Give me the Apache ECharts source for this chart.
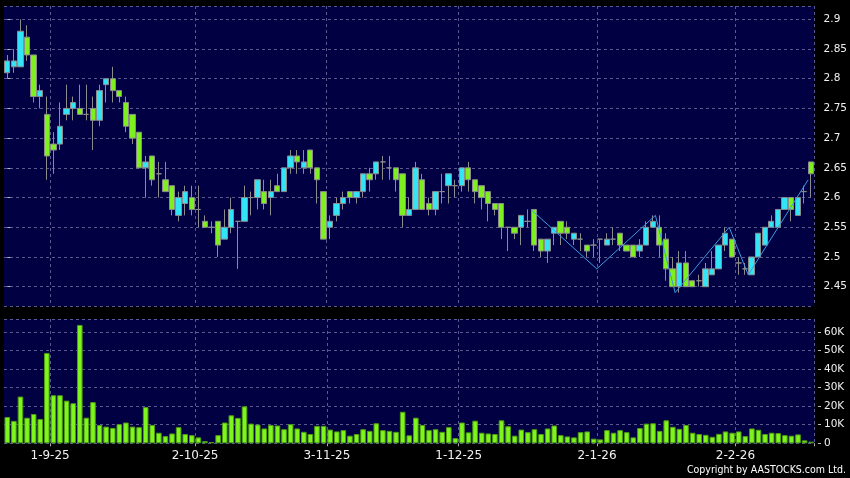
<!DOCTYPE html>
<html><head><meta charset="utf-8">
<script src="https://cdn.jsdelivr.net/npm/echarts@6/dist/echarts.min.js"></script>
<style>html,body{margin:0;padding:0;background:#000;}#c{width:850px;height:478px;}</style>
</head><body><div id="c"></div>
<script>
const dates = [
 '21-8-25','22-8-25','25-8-25','26-8-25','27-8-25','28-8-25','29-8-25',
 '1-9-25','2-9-25','3-9-25','4-9-25','5-9-25','8-9-25','9-9-25','10-9-25','11-9-25','12-9-25','15-9-25','16-9-25','17-9-25','18-9-25','19-9-25','22-9-25','23-9-25','24-9-25','25-9-25','26-9-25','29-9-25','30-9-25',
 '2-10-25','3-10-25','6-10-25','8-10-25','9-10-25','10-10-25','13-10-25','14-10-25','15-10-25','16-10-25','17-10-25','20-10-25','21-10-25','22-10-25','23-10-25','24-10-25','27-10-25','28-10-25','30-10-25','31-10-25',
 '3-11-25','4-11-25','5-11-25','6-11-25','7-11-25','10-11-25','11-11-25','12-11-25','13-11-25','14-11-25','17-11-25','18-11-25','19-11-25','20-11-25','21-11-25','24-11-25','25-11-25','26-11-25','27-11-25','28-11-25',
 '1-12-25','2-12-25','3-12-25','4-12-25','5-12-25','8-12-25','9-12-25','10-12-25','11-12-25','12-12-25','15-12-25','16-12-25','17-12-25','18-12-25','19-12-25','22-12-25','23-12-25','24-12-25','29-12-25','30-12-25','31-12-25',
 '2-1-26','5-1-26','6-1-26','7-1-26','8-1-26','9-1-26','12-1-26','13-1-26','14-1-26','15-1-26','16-1-26','19-1-26','20-1-26','21-1-26','22-1-26','23-1-26','26-1-26','27-1-26','28-1-26','29-1-26','30-1-26',
 '2-2-26','3-2-26','4-2-26','5-2-26','6-2-26','9-2-26','10-2-26','11-2-26','12-2-26','13-2-26','16-2-26','20-2-26'
];
const opens = [
 2.81,2.82,2.82,2.87,2.84,2.77,2.74,2.69,2.69,2.74,
 2.75,2.75,2.74,2.75,2.73,2.79,2.80,2.78,2.76,2.74,
 2.71,2.65,2.67,2.64,2.63,2.62,2.57,2.59,2.60,2.58,
 2.56,2.55,2.56,2.53,2.55,2.56,2.56,2.60,2.60,2.61,
 2.60,2.62,2.61,2.65,2.67,2.65,2.68,2.65,2.61,2.55,
 2.57,2.59,2.61,2.60,2.61,2.64,2.64,2.66,2.65,2.65,
 2.64,2.57,2.58,2.63,2.59,2.58,2.61,2.62,2.62,2.62,
 2.65,2.63,2.62,2.61,2.59,2.59,2.55,2.55,2.55,2.56,
 2.58,2.53,2.51,2.54,2.56,2.55,2.53,2.53,2.52,2.52,
 2.53,2.52,2.53,2.54,2.52,2.52,2.51,2.52,2.55,2.55,
 2.53,2.48,2.45,2.49,2.46,2.46,2.45,2.47,2.48,2.52,
 2.53,2.49,2.48,2.47,2.50,2.52,2.55,2.55,2.58,2.60,
 2.57,2.61,2.66
];
const closes = [
 2.83,2.83,2.88,2.84,2.77,2.78,2.67,2.68,2.72,2.75,
 2.76,2.74,2.74,2.73,2.78,2.80,2.78,2.77,2.72,2.70,
 2.65,2.66,2.63,2.64,2.61,2.58,2.60,2.61,2.58,2.58,
 2.55,2.55,2.52,2.55,2.58,2.56,2.60,2.60,2.63,2.59,
 2.61,2.61,2.65,2.67,2.66,2.66,2.65,2.63,2.53,2.56,
 2.59,2.60,2.60,2.61,2.64,2.63,2.66,2.66,2.65,2.63,
 2.57,2.58,2.65,2.58,2.58,2.61,2.61,2.64,2.62,2.65,
 2.63,2.61,2.60,2.59,2.58,2.55,2.55,2.54,2.57,2.56,
 2.52,2.51,2.53,2.55,2.54,2.54,2.54,2.53,2.51,2.52,
 2.53,2.53,2.53,2.52,2.51,2.50,2.52,2.55,2.56,2.52,
 2.48,2.45,2.49,2.45,2.45,2.46,2.48,2.48,2.52,2.54,
 2.50,2.49,2.48,2.50,2.54,2.55,2.56,2.58,2.60,2.58,
 2.60,2.61,2.64
];
const lows = [
 2.80,2.81,2.82,2.83,2.76,2.75,2.63,2.64,2.68,2.73,
 2.73,2.74,2.73,2.68,2.72,2.76,2.76,2.76,2.71,2.69,
 2.65,2.60,2.62,2.60,2.61,2.57,2.56,2.57,2.57,2.55,
 2.55,2.54,2.50,2.53,2.54,2.48,2.56,2.57,2.58,2.58,
 2.57,2.61,2.61,2.64,2.64,2.64,2.64,2.59,2.53,2.53,
 2.56,2.58,2.59,2.59,2.60,2.61,2.63,2.63,2.63,2.61,
 2.55,2.57,2.58,2.58,2.57,2.57,2.59,2.59,2.60,2.61,
 2.61,2.59,2.58,2.56,2.57,2.53,2.51,2.53,2.52,2.55,
 2.51,2.50,2.49,2.52,2.52,2.53,2.52,2.51,2.50,2.50,
 2.49,2.52,2.52,2.51,2.51,2.50,2.50,2.52,2.55,2.50,
 2.46,2.45,2.44,2.45,2.45,2.45,2.45,2.47,2.48,2.51,
 2.50,2.47,2.47,2.47,2.50,2.52,2.55,2.55,2.58,2.56,
 2.57,2.59,2.60
];
const highs = [
 2.84,2.85,2.90,2.89,2.84,2.79,2.77,2.71,2.76,2.79,
 2.77,2.79,2.79,2.77,2.79,2.80,2.82,2.78,2.77,2.74,
 2.71,2.67,2.67,2.66,2.66,2.62,2.61,2.62,2.62,2.62,
 2.57,2.56,2.56,2.58,2.60,2.56,2.62,2.61,2.63,2.63,
 2.63,2.64,2.65,2.68,2.68,2.68,2.68,2.65,2.61,2.57,
 2.60,2.61,2.61,2.61,2.64,2.65,2.66,2.67,2.67,2.65,
 2.64,2.60,2.66,2.64,2.60,2.61,2.64,2.64,2.63,2.65,
 2.66,2.63,2.62,2.61,2.59,2.59,2.55,2.55,2.57,2.58,
 2.58,2.53,2.53,2.55,2.56,2.56,2.54,2.54,2.52,2.53,
 2.53,2.54,2.55,2.54,2.52,2.52,2.53,2.56,2.57,2.57,
 2.54,2.50,2.51,2.51,2.46,2.47,2.49,2.51,2.52,2.55,
 2.53,2.50,2.49,2.50,2.54,2.55,2.57,2.58,2.60,2.60,
 2.60,2.62,2.66
];
const volumes = [
 14200,12100,25200,13800,15800,13100,48700,25900,25900,23000,
 21600,63800,13800,22200,9900,9000,8300,10300,11200,9000,
 8700,19500,9900,5700,3900,5300,8700,5000,4400,3200,
 1200,700,4400,11200,15100,13700,19900,10600,10100,8000,
 9900,9600,7600,10300,8000,6200,5000,9400,9400,7400,
 6400,7100,4100,5000,7600,6700,10800,7100,6700,6200,
 17000,4300,13800,9900,7100,7600,6200,8700,2800,11200,
 5900,12200,5700,5300,5000,12400,9200,4100,7400,6000,
 7600,5000,8000,9600,4400,3700,3200,6000,6400,2500,
 2100,7100,5700,7100,6000,3200,8200,10600,10800,6700,
 12400,8900,7800,9900,5700,5000,4600,3500,5100,6400,
 5700,6400,3900,8000,7300,5000,5700,5500,4400,4100,
 4800,1600,900
];
// zigzag trend line: position on the category index scale, price
const zigzagX = [79.5, 89.5, 98.4, 101.4, 109.6, 112.5, 121.6];
const zigzagY = [2.58, 2.48, 2.57, 2.44, 2.55, 2.47, 2.63];

const monthOf = s => s.split('-')[1];
const isMonthStart = (i) => i > 0 && monthOf(dates[i]) !== monthOf(dates[i-1]);
const gridLine = {show:true, lineStyle:{color:'#5a5a8e', type:[3,3], width:1}};
const font = 'DejaVu Sans';

const chart = echarts.init(document.getElementById('c'), null, {renderer:'canvas'});
chart.setOption({
  backgroundColor:'#000',
  animation:false,
  grid:[
    {left:4, right:35.5, top:6, height:300, show:true, backgroundColor:'#000042', borderWidth:0},
    {left:4, right:35.5, top:319, height:124.3, show:true, backgroundColor:'#000042', borderWidth:0}
  ],
  xAxis:[
    {type:'category', gridIndex:0, data:dates, boundaryGap:true,
     axisLine:{show:false}, axisTick:{show:false}, axisLabel:{show:false},
     splitLine:Object.assign({interval:(i)=>isMonthStart(i)}, gridLine)},
    {type:'category', gridIndex:1, data:dates, boundaryGap:true, offset:3,
     axisLine:{show:false},
     axisTick:{show:true, interval:(i)=>isMonthStart(i), length:3, lineStyle:{color:'#aaaaaa'}},
     axisLabel:{interval:(i)=>isMonthStart(i), color:'#f0f0f0', fontSize:12, fontFamily:font, margin:4, padding:[0,6.6,0,0]},
     splitLine:Object.assign({interval:(i)=>isMonthStart(i)}, gridLine)},
    {type:'value', gridIndex:0, min:-0.5, max:dates.length-0.5, show:false}
  ],
  yAxis:[
    {type:'value', gridIndex:0, position:'right', min:2.4175, max:2.9224, splitNumber:10, offset:3.5,
     axisLine:{show:false}, axisTick:{show:true, length:3, lineStyle:{color:'#bbbbbb'}},
     axisLabel:{color:'#f0f0f0', fontSize:10.5, fontFamily:font, margin:6, showMinLabel:false, showMaxLabel:false,
       formatter:v=>String(+v.toFixed(2))},
     splitLine:gridLine},
    {type:'value', gridIndex:1, position:'right', min:0, max:67000, interval:10000, offset:3.5,
     axisLine:{show:false}, axisTick:{show:true, length:3, lineStyle:{color:'#bbbbbb'}},
     axisLabel:{color:'#f0f0f0', fontSize:10.5, fontFamily:font, margin:6, showMaxLabel:false,
       formatter:v=> v===0 ? '0' : (v/1000)+'K'},
     splitLine:gridLine}
  ],
  series:[
    {type:'candlestick', xAxisIndex:0, yAxisIndex:0, barWidth:5.8,
     data:opens.map((o,i)=>[o, closes[i], lows[i], highs[i]]),
     itemStyle:{color:'#33e4f7', color0:'#7ff01f', borderColor:'#8c8c8c', borderColor0:'#8c8c8c', borderWidth:1}},
    {type:'line', xAxisIndex:2, yAxisIndex:0, symbol:'none',
     data:zigzagX.map((x,i)=>[x, zigzagY[i]]),
     lineStyle:{color:'#3c9be0', width:1}},
    {type:'bar', xAxisIndex:1, yAxisIndex:1, barWidth:5.6, data:volumes,
     itemStyle:{color:'#7ef51d', borderColor:'#4f9c12', borderWidth:1}}
  ],
  graphic:[
    {type:'text', right:4, top:465, style:{text:'Copyright by AASTOCKS.com Ltd.', fill:'#ffffff',
      font:'10.5px "DejaVu Sans Condensed", "Liberation Sans Narrow", "DejaVu Sans", sans-serif'}}
  ]
});
</script>
</body></html>
